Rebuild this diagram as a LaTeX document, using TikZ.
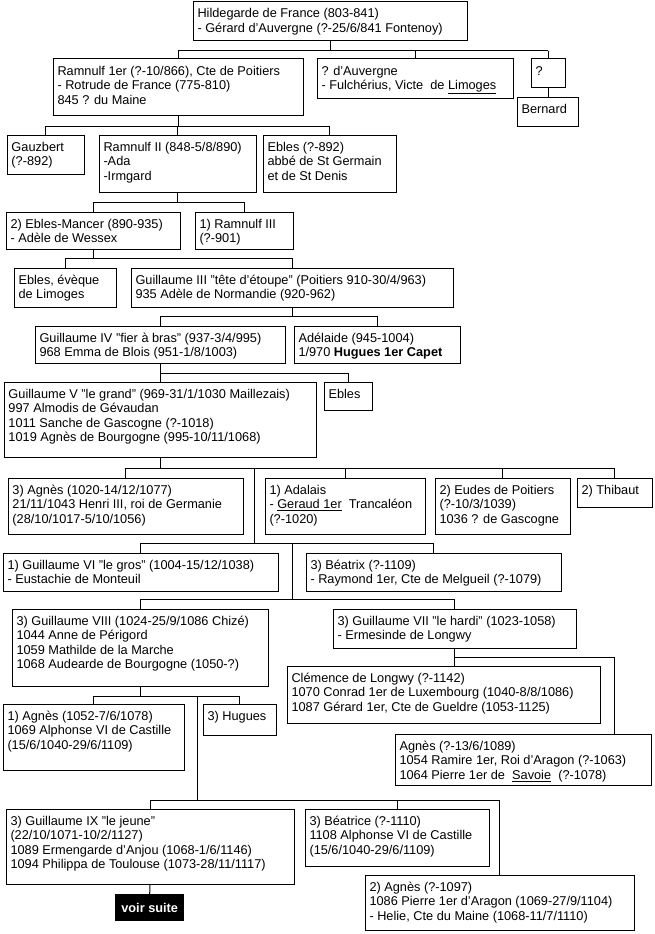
\documentclass[tikz,border=0pt]{standalone}
\usepackage{fontspec}
\setmainfont{Liberation Sans}
\newcommand{\famnode}[6]{%
  \pgfmathsetmacro{\famw}{#4-#2-9}%
  \pgfmathsetmacro{\famh}{#5-#3}%
  \node[fam] (#1) at (#2,#3) {\parbox[c][\famh pt][t]{\famw pt}{\raggedright\rule{0pt}{16pt}#6}};}
\begin{document}
\begin{tikzpicture}[x=1pt,y=-1pt,
  font=\fontsize{12.75pt}{14.6pt}\selectfont,
  fam/.style={draw, line width=1pt, anchor=north west, inner xsep=4.5pt, inner ysep=0pt, outer sep=0pt},
  conn/.style={line width=1pt},
  voirbox/.style={fill=black, text=white, font=\fontsize{12.75pt}{14.6pt}\selectfont\bfseries, minimum width=69pt, minimum height=27pt, inner sep=0pt, anchor=north west}]
\fill[white] (0,0) rectangle (654,934);
\useasboundingbox (0,0) rectangle (654,934);

\famnode{hild}{193}{2}{467}{41}{Hildegarde de France (803-841)\\- Gérard d'Auvergne (?-25/6/841 Fontenoy)}
\famnode{ram1}{53}{59}{303}{115}{Ramnulf 1er (?-10/866), Cte de Poitiers\\- Rotrude de France (775-810)\\845 ? du Maine}
\famnode{auv}{317}{59}{513}{98}{? d'Auvergne\\- Fulchérius, Victe\ \ de \underline{Limoges}}
\famnode{q}{531}{59}{565}{87}{?}
\famnode{bern}{517}{97}{578}{126}{Bernard}
\famnode{gauz}{7}{135}{84}{174}{Gauzbert\\(?-892)}
\famnode{ram2}{99}{135}{256}{192}{Ramnulf II (848-5/8/890)\\-Ada\\-Irmgard}
\famnode{ebla}{263}{135}{396}{192}{Ebles (?-892)\\abbé de St Germain\\et de St Denis}
\famnode{eblm}{6}{212}{180}{249}{2) Ebles-Mancer (890-935)\\- Adèle de Wessex}
\famnode{ram3}{195}{212}{293}{249}{1) Ramnulf III\\(?-901)}
\famnode{eblev}{14}{268}{116}{307}{Ebles, évèque\\de Limoges}
\famnode{gIII}{131}{268}{453}{307}{Guillaume III "tête d'étoupe" (Poitiers 910-30/4/963)\\935 Adèle de Normandie (920-962)}
\famnode{gIV}{35}{326}{285}{363}{Guillaume IV "fier à bras" (937-3/4/995)\\968 Emma de Blois (951-1/8/1003)}
\famnode{adel}{294}{326}{460}{363}{Adélaide (945-1004)\\1/970 \textbf{Hugues 1er Capet}}
\famnode{gV}{4}{382}{316}{457}{Guillaume V "le grand" (969-31/1/1030 Maillezais)\\997 Almodis de Gévaudan\\1011 Sanche de Gascogne (?-1018)\\1019 Agnès de Bourgogne (995-10/11/1068)}
\famnode{eblb}{324}{382}{372}{410}{Ebles}
\famnode{agnA}{8}{478}{243}{534}{3) Agnès (1020-14/12/1077)\\21/11/1043 Henri III, roi de Germanie\\(28/10/1017-5/10/1056)}
\famnode{adal}{265}{478}{425}{534}{1) Adalais\\- \underline{Geraud 1er}\ \ Trancaléon\\(?-1020)}
\famnode{eudes}{435}{478}{570}{534}{2) Eudes de Poitiers\\(?-10/3/1039)\\1036 ? de Gascogne}
\famnode{thib}{577}{478}{652}{507}{2) Thibaut}
\famnode{gVI}{3}{553}{278}{591}{1) Guillaume VI "le gros" (1004-15/12/1038)\\- Eustachie de Monteuil}
\famnode{beatA}{306}{553}{561}{591}{3) Béatrix (?-1109)\\- Raymond 1er, Cte de Melgueil (?-1079)}
\famnode{gVIII}{12}{609}{268}{686}{3) Guillaume VIII (1024-25/9/1086 Chizé)\\1044 Anne de Périgord\\1059 Mathilde de la Marche\\1068 Audearde de Bourgogne (1050-?)}
\famnode{gVII}{333}{609}{576}{648}{3) Guillaume VII "le hardi" (1023-1058)\\- Ermesinde de Longwy}
\famnode{clem}{287}{666}{600}{723}{Clémence de Longwy (?-1142)\\1070 Conrad 1er de Luxembourg (1040-8/8/1086)\\1087 Gérard 1er, Cte de Gueldre (1053-1125)}
\famnode{agnB}{3}{704}{184}{770}{1) Agnès (1052-7/6/1078)\\1069 Alphonse VI de Castille\\(15/6/1040-29/6/1109)}
\famnode{hug}{203}{704}{276}{735}{3) Hugues}
\famnode{agnC}{395}{734}{651}{785}{Agnès (?-13/6/1089)\\1054 Ramire 1er, Roi d'Aragon (?-1063)\\1064 Pierre 1er de\ \ \underline{Savoie}\ \ (?-1078)}
\famnode{gIX}{6}{809}{294}{884}{3) Guillaume IX "le jeune"\\(22/10/1071-10/2/1127)\\1089 Ermengarde d'Anjou (1068-1/6/1146)\\1094 Philippa de Toulouse (1073-28/11/1117)}
\famnode{beatB}{305}{809}{489}{866}{3) Béatrice (?-1110)\\1108 Alphonse VI de Castille\\(15/6/1040-29/6/1109)}
\famnode{agnD}{365}{875}{634}{930}{2) Agnès (?-1097)\\1086 Pierre 1er d'Aragon (1069-27/9/1104)\\- Helie, Cte du Maine (1068-11/7/1110)}
\node[voirbox] (voir) at (115,894) {voir suite};

% bus levels
\coordinate (b1) at (0,51);
\coordinate (b2) at (0,126);
\coordinate (b3) at (0,202);
\coordinate (b4) at (0,258);
\coordinate (b5) at (0,316);
\coordinate (b6) at (0,373);
\coordinate (b7) at (0,468);
\coordinate (b8) at (0,543);
\coordinate (b9) at (0,599);
\coordinate (b11) at (0,696);
\coordinate (b12) at (0,800);
\coordinate (j1) at (254,468);
\coordinate (j2) at (292,543);
\coordinate (j3) at (614,657);
\coordinate (j4) at (197,696);

% Hildegarde
\draw[conn] (hild.south) -- (hild.south |- b1);
\draw[conn] (ram1.north |- b1) -- (q.north |- b1);
\foreach \c in {ram1,auv,q} \draw[conn] (\c.north |- b1) -- (\c.north);
\draw[conn] (q.south) -- (q.south |- bern.north);
% Ramnulf 1er
\draw[conn] (ram1.south) -- (ram1.south |- b2);
\draw[conn] (gauz.north |- b2) -- (ebla.north |- b2);
\foreach \c in {gauz,ram2,ebla} \draw[conn] (\c.north |- b2) -- (\c.north);
% Ramnulf II
\draw[conn] (ram2.south) -- (ram2.south |- b3);
\draw[conn] (eblm.north |- b3) -- (ram3.north |- b3);
\foreach \c in {eblm,ram3} \draw[conn] (\c.north |- b3) -- (\c.north);
% Ebles-Mancer
\draw[conn] (eblm.south) -- (eblm.south |- b4);
\draw[conn] (eblev.north |- b4) -- (gIII.north |- b4);
\foreach \c in {eblev,gIII} \draw[conn] (\c.north |- b4) -- (\c.north);
% Guillaume III
\draw[conn] (gIII.south) -- (gIII.south |- b5);
\draw[conn] (gIV.north |- b5) -- (adel.north |- b5);
\foreach \c in {gIV,adel} \draw[conn] (\c.north |- b5) -- (\c.north);
% Guillaume IV
\draw[conn] (gIV.south) -- (gIV.south |- b6);
\draw[conn] (gV.north |- b6) -- (eblb.north |- b6);
\foreach \c in {gV,eblb} \draw[conn] (\c.north |- b6) -- (\c.north);
% Guillaume V
\draw[conn] (gV.south) -- (gV.south |- b7);
\draw[conn] (agnA.north |- b7) -- (thib.north |- b7);
\foreach \c in {agnA,adal,eudes,thib} \draw[conn] (\c.north |- b7) -- (\c.north);
\draw[conn] (j1) -- (j1 |- b8);
\draw[conn] (gVI.north |- b8) -- (beatA.north |- b8);
\foreach \c in {gVI,beatA} \draw[conn] (\c.north |- b8) -- (\c.north);
\draw[conn] (j2) -- (j2 |- b9);
\draw[conn] (gVIII.north |- b9) -- (gVII.north |- b9);
\foreach \c in {gVIII,gVII} \draw[conn] (\c.north |- b9) -- (\c.north);
% Guillaume VII
\draw[conn] (gVII.south) -- (gVII.south |- clem.north);
\draw[conn] (gVII.south |- j3) -- (j3) -- (j3 |- agnC.north);
% Guillaume VIII
\draw[conn] (gVIII.south) -- (gVIII.south |- b11);
\draw[conn] (agnB.north |- b11) -- (hug.north |- b11);
\foreach \c in {agnB,hug} \draw[conn] (\c.north |- b11) -- (\c.north);
\draw[conn] (j4) -- (j4 |- b12);
\draw[conn] (gIX.north |- b12) -- (agnD.north |- b12);
\foreach \c in {gIX,beatB,agnD} \draw[conn] (\c.north |- b12) -- (\c.north);
% Guillaume IX
\draw[conn] (gIX.south) -- (voir.north);
\end{tikzpicture}
\end{document}
